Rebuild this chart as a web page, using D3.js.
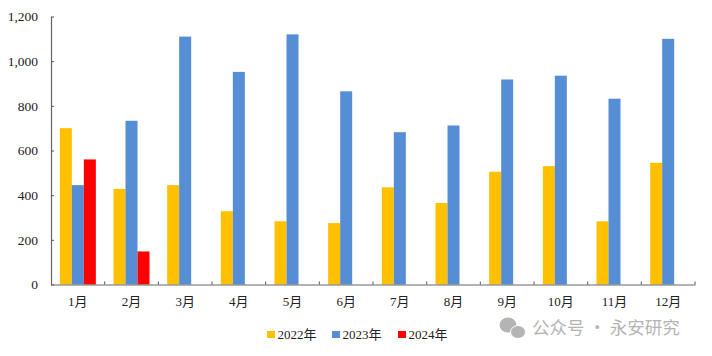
<!DOCTYPE html>
<html>
<head>
<meta charset="utf-8">
<script src="https://cdn.jsdelivr.net/npm/d3@7"></script>
<style>
  html, body { margin: 0; padding: 0; background: #fff; }
  text { font-family: "Liberation Serif", "Noto Sans CJK SC", serif; fill: #222; }
</style>
</head>
<body>
<div id="chart"></div>
<script>
const months = ["1月", "2月", "3月", "4月", "5月", "6月", "7月", "8月", "9月", "10月", "11月", "12月"];
const seriesNames = ["2022年", "2023年", "2024年"];
const seriesColors = ["#ffc000", "#558ed5", "#ff0000"];
const values2022 = [700, 428, 445, 328, 283, 275, 435, 365, 505, 530, 283, 545];
const values2023 = [445, 733, 1110, 952, 1120, 865, 682, 712, 918, 935, 832, 1100];
const values2024 = [560, 148];
const yTicks = [0, 200, 400, 600, 800, 1000, 1200];

const width = 712, height = 356;
const margin = {top: 16.5, right: 17, bottom: 71.5, left: 51};

const svg = d3.select("#chart").append("svg")
  .attr("width", width)
  .attr("height", height)
  .style("display", "block");

const x = d3.scaleBand()
  .domain(months)
  .range([margin.left, width - margin.right]);

const xInner = d3.scaleBand()
  .domain(seriesNames)
  .range([0, x.bandwidth()])
  .paddingInner(0)
  .paddingOuter(0.736);

const y = d3.scaleLinear()
  .domain([0, 1200])
  .range([height - margin.bottom, margin.top]);

// bars
[values2022, values2023, values2024].forEach((vals, i) => {
  svg.append("g")
    .selectAll("rect")
    .data(vals)
    .join("rect")
    .attr("x", (d, j) => x(months[j]) + xInner(seriesNames[i]))
    .attr("y", d => y(d))
    .attr("width", xInner.bandwidth())
    .attr("height", d => y(0) - y(d))
    .attr("fill", seriesColors[i]);
});

// y axis, ticks point inwards
const yAxis = svg.append("g")
  .attr("transform", `translate(${margin.left},0)`)
  .call(d3.axisLeft(y).tickValues(yTicks).tickSize(-3).tickPadding(13).tickSizeOuter(0));
yAxis.selectAll("text").style("font-size", "13.5px");

// x axis, ticks sit on the month boundaries
const xAxis = svg.append("g")
  .attr("transform", `translate(0,${y(0)})`)
  .call(d3.axisBottom(x).tickSize(0).tickPadding(12));
xAxis.selectAll("text").style("font-size", "13px");
xAxis.selectAll("line.bound")
  .data(months)
  .join("line")
  .attr("class", "bound")
  .attr("x1", d => x(d) + x.bandwidth())
  .attr("x2", d => x(d) + x.bandwidth())
  .attr("y1", 0)
  .attr("y2", -3)
  .attr("stroke", "#555");

svg.selectAll(".domain").attr("stroke", "#666").attr("stroke-width", 1.2);
yAxis.selectAll("line").attr("stroke", "#555");

// legend
const legendX = [267, 332, 398];
const legend = svg.append("g");
seriesNames.forEach((name, i) => {
  legend.append("rect")
    .attr("x", legendX[i])
    .attr("y", 331)
    .attr("width", 8)
    .attr("height", 7)
    .attr("fill", seriesColors[i]);
  legend.append("text")
    .attr("x", legendX[i] + 10.5)
    .attr("y", 339)
    .style("font-size", "13px")
    .text(name);
});

// watermark
const mark = svg.append("g").attr("fill", "#b4b4b4");
mark.append("ellipse").attr("cx", 508).attr("cy", 325).attr("rx", 8.5).attr("ry", 7.5);
mark.append("ellipse").attr("cx", 518).attr("cy", 332).attr("rx", 7.5).attr("ry", 6.5)
  .attr("stroke", "#fff").attr("stroke-width", 1);
svg.append("text")
  .attr("x", 532)
  .attr("y", 334)
  .style("font-family", "'Noto Sans CJK SC'")
  .style("font-size", "17.5px")
  .style("fill", "#b4b4b4")
  .text("公众号 · 永安研究");
</script>
</body>
</html>
